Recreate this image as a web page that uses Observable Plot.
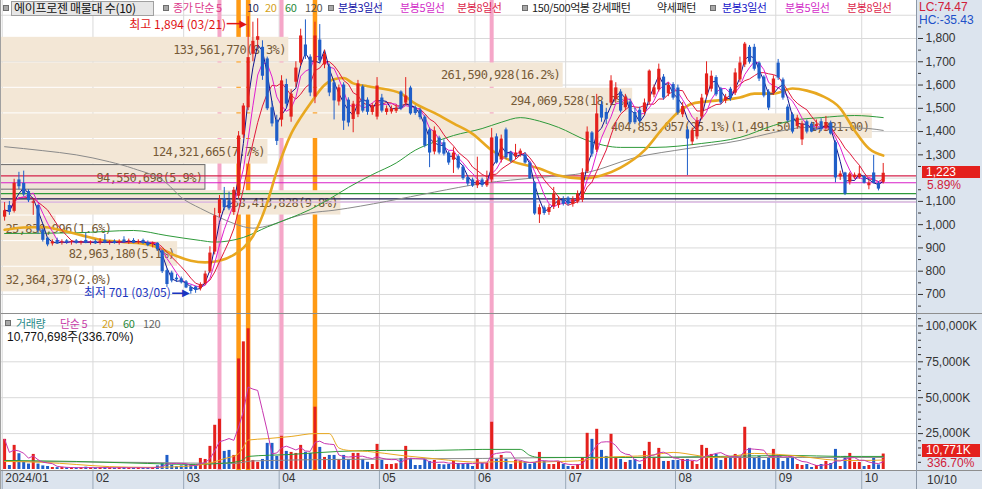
<!DOCTYPE html>
<html>
<head>
<meta charset="utf-8">
<script src="https://cdn.jsdelivr.net/npm/d3@7"></script>
<script src="https://cdn.jsdelivr.net/npm/@observablehq/plot@0.6"></script>
<style>
html,body{margin:0;padding:0;background:#fff;}
#wrap{position:relative;width:982px;height:489px;overflow:hidden;background:#fff;}
#wrap svg{position:absolute;left:0;}
.t{position:absolute;white-space:nowrap;font-family:"Noto Sans CJK KR","Liberation Sans",sans-serif;font-size:11px;line-height:12px;letter-spacing:-0.4px;}
.n{position:absolute;white-space:nowrap;font-family:"Liberation Sans","Noto Sans CJK KR",sans-serif;font-size:12px;line-height:12px;}
.ico{position:absolute;width:4px;height:4px;background:#a8a8a8;border:1px solid #6e6e6e;}
.bx{position:absolute;}
</style>
</head>
<body>
<div id="wrap"></div>
<script>
// ---------------- DATA ----------------
// daily candles, 2024-01 .. 2024-10-10 (index = trading day)
const open = [1030,1080,1055,1190,1175,1140,1090,1080,975,940,
915,930,920,928,922,928,920,930,920,926,
918,930,920,926,920,932,925,930,922,930,
920,912,918,885,800,790,768,765,752,728,
730,722,745,795,880,1045,1110,1100,1050,1120,
1383,1500,1730,1790,1760,1710,1500,1447,1447,1600,
1460,1610,1692,1770,1718,1546,1791,1684,1675,1607,
1525,1598,1533,1450,1470,1590,1533,1480,1460,1542,
1480,1482,1485,1568,1520,1585,1500,1490,1460,1405,
1310,1370,1350,1305,1275,1290,1245,1200,1190,1165,
1190,1165,1190,1375,1276,1405,1305,1290,1300,1297,
1262,1177,1040,1070,1050,1075,1080,1105,1112,1085,
1095,1104,1225,1392,1318,1513,1480,1520,1535,1568,
1500,1525,1480,1490,1480,1525,1555,1577,1632,1560,
1600,1585,1470,1405,1353,1375,1460,1555,1580,1630,
1580,1530,1580,1563,1620,1684,1760,1760,1692,1632,
1568,1563,1692,1620,1503,1470,1420,1362,1440,1430,
1420,1440,1410,1435,1350,1203,1220,1180,1200,1200,
1205,1165,1220,1175,1180];
const high = [1095,1100,1195,1225,1230,1150,1110,1085,980,945,
935,942,935,936,932,936,930,965,930,935,
940,958,932,935,935,948,938,940,935,938,
930,925,922,890,810,800,785,775,760,740,
735,750,800,905,1070,1125,1160,1140,1160,1400,
1520,1894,1870,1885,1790,1720,1530,1470,1640,1625,
1580,1700,1840,1880,1730,1870,1860,1750,1690,1620,
1600,1610,1545,1530,1620,1600,1545,1520,1632,1560,
1510,1510,1515,1575,1632,1595,1510,1500,1470,1415,
1420,1380,1365,1315,1330,1300,1255,1210,1200,1290,
1200,1230,1413,1390,1385,1415,1315,1345,1325,1310,
1270,1185,1085,1080,1085,1160,1120,1120,1120,1120,
1145,1240,1420,1400,1560,1530,1500,1640,1610,1580,
1560,1540,1500,1505,1540,1665,1600,1690,1645,1610,
1610,1600,1525,1420,1415,1460,1560,1700,1660,1640,
1590,1560,1590,1670,1720,1783,1770,1775,1700,1640,
1580,1640,1710,1630,1515,1480,1470,1445,1450,1440,
1450,1455,1465,1445,1360,1230,1225,1225,1222,1250,
1212,1190,1297,1185,1263];
const low = [1015,1040,1050,1150,1120,1095,1040,960,925,905,
908,915,912,915,912,916,912,918,912,915,
912,918,912,916,912,920,915,918,915,915,
905,900,885,790,730,750,752,745,725,701,
705,715,738,790,870,1030,1060,1060,1040,1110,
1370,1490,1700,1760,1620,1490,1420,1340,1420,1500,
1440,1590,1680,1710,1550,1520,1690,1670,1550,1450,
1510,1405,1420,1395,1460,1480,1470,1470,1450,1480,
1470,1475,1478,1490,1510,1470,1470,1450,1330,1245,
1300,1300,1295,1255,1220,1235,1190,1165,1160,1155,
1160,1160,1180,1260,1265,1280,1265,1280,1290,1260,
1195,1040,1005,1040,1040,1065,1070,1080,1080,1075,
1090,1095,1220,1290,1310,1440,1430,1510,1520,1480,
1490,1430,1430,1435,1470,1515,1545,1570,1535,1550,
1535,1470,1460,1211,1340,1365,1450,1545,1570,1550,
1515,1520,1530,1555,1610,1675,1690,1660,1615,1545,
1490,1555,1620,1535,1440,1390,1410,1340,1390,1395,
1410,1400,1400,1385,1180,1190,1125,1170,1195,1195,
1175,1150,1175,1145,1175];
const close = [1062,1055,1180,1165,1130,1105,1100,975,935,915,
928,920,928,924,930,922,928,922,926,920,
928,922,927,921,930,925,932,922,930,921,
912,922,895,800,745,760,765,752,730,715,
720,742,790,880,1040,1110,1075,1070,1150,1383,
1512,1720,1790,1810,1640,1500,1435,1360,1620,1520,
1563,1675,1813,1727,1568,1813,1705,1735,1568,1534,
1590,1447,1439,1520,1607,1490,1485,1512,1598,1490,
1500,1500,1502,1500,1555,1478,1480,1462,1340,1310,
1405,1310,1305,1267,1310,1245,1200,1177,1168,1190,
1170,1190,1375,1267,1370,1290,1275,1310,1318,1267,
1200,1048,1075,1050,1075,1134,1105,1090,1090,1110,
1134,1225,1400,1305,1478,1460,1455,1620,1590,1490,
1550,1440,1440,1445,1525,1662,1590,1670,1546,1600,
1546,1482,1510,1370,1405,1448,1546,1650,1640,1560,
1525,1550,1545,1654,1697,1778,1700,1670,1628,1555,
1503,1628,1632,1546,1448,1400,1460,1435,1400,1400,
1432,1410,1440,1392,1203,1220,1134,1220,1215,1220,
1180,1180,1180,1155,1223];
// volume in thousands of shares (K)
const volume = [21000,2800,16800,11000,5000,3800,10500,3800,2500,2100,
1400,1300,1500,1200,1400,1100,1300,1600,1200,1100,
1300,1500,1200,1000,1300,1400,1200,1100,1300,1000,
1200,1400,2500,4000,9800,3000,2000,2500,3000,3500,
3000,7700,7000,16100,30800,35000,12600,13300,9800,77000,
88900,98000,6300,5000,7000,18200,18200,9100,23100,12600,
11900,11200,16800,12000,11200,43400,15400,8400,9800,9800,
7000,9800,7000,11200,11200,7000,5000,3500,17500,6300,
3500,3500,4000,7700,16100,7700,2800,2800,7000,5600,
6300,3500,3200,3500,5600,4200,4200,4200,2100,7700,
4200,4200,32900,7000,9800,7000,3500,6300,5600,4900,
3500,4900,11900,5600,3500,3500,5600,3500,2100,2100,
3500,7700,25200,21000,28000,13300,9100,24500,8400,7000,
4900,6300,7000,3500,12600,18900,8400,14700,5600,5600,
6300,6300,7000,7000,5600,3500,16800,14700,10500,10500,
6300,8400,9100,10500,8400,29400,14700,7700,9100,6300,
7700,14000,9800,5600,7700,8400,3500,2800,3500,1400,
2800,3500,5600,4200,14000,2100,9100,11200,4900,4900,
2100,2800,7700,3198.9,10770.698];

// first trading day of each month (index) and tick labels
const monthStart = [0,19,38,58,79,99,118,141,162,180];
const monthLabels = ["2024/01","02","03","04","05","06","07","08","09","10"];
const lastLabel = "10/10";

// long moving averages: [day index], [value]
const ma20Idx = [0,4,8,12,16,20,25,30,33,36,39,42,45,48,50,52,55,57,60,62,64,67,69,71,73,76,78,83,86,90,94,98,102,106,112,116,121,125,129,134,138,141,144,149,154,157,161,165,168,171,175,178,181,184];
const ma20Val = [978,988,990,975,955,935,925,915,895,865,845,838,845,870,900,950,1095,1230,1390,1460,1520,1600,1625,1630,1607,1595,1588,1563,1520,1480,1435,1390,1320,1275,1241,1211,1198,1211,1245,1319,1418,1482,1520,1533,1546,1563,1563,1585,1576,1555,1500,1405,1327,1297];
const ma60Idx = [0,15,27,34,41,44,50,55,60,64,68,72,77,82,86,90,94,100,104,108,112,116,122,129,136,146,154,161,165,171,178,184];
const ma60Val = [962,965,975,953,932,925,945,990,1030,1065,1110,1160,1215,1265,1320,1355,1383,1413,1440,1460,1445,1418,1362,1332,1332,1349,1375,1426,1448,1460,1469,1460];
const ma120Idx = [0,8,15,22,27,34,37,41,45,48,52,56,60,64,69,80,90,100,112,122,132,143,154,161,168,175,181,184];
const ma120Val = [1335,1318,1300,1270,1241,1177,1117,1070,1031,1005,985,1000,1030,1050,1062,1100,1140,1177,1203,1224,1288,1327,1362,1396,1418,1418,1413,1405];
// volume moving averages (K)
const vma20Idx = [0,8,15,22,30,36,40,43,46,49,50,51,55,60,65,68,70,72,76,83,90,96,100,104,110,116,120,125,130,135,140,145,148,152,157,162,167,172,176,180,184];
const vma20Val = [5600,5000,3500,2000,1500,1900,2800,4500,7500,11000,15500,20500,21500,23000,25000,25000,15000,13300,12600,9800,7500,5600,5000,5600,5000,5600,6000,8400,9100,9800,11900,9800,8400,9100,11200,10500,9100,7000,6300,6300,6600];
const vma60Idx = [0,15,30,40,45,49,50,51,60,70,80,90,100,108,110,112,130,150,165,175,184];
const vma60Val = [6300,5600,4200,3500,4200,5600,7000,9100,10500,12600,13300,13300,14000,14000,9800,8400,8400,9100,9800,9100,9100];
const vma120Idx = [0,30,48,52,70,100,120,150,184];
const vma120Val = [5600,4900,4200,6000,7000,7700,8400,8400,8400];

// pattern markers (day index)
const pinkIdx = [45,58,102];
const orangeIdx = [49,51,65];

// horizontal level lines
const levelVals = [1210,1180,1133,1111,1097];

// volume-by-price profile (10 bins, top to bottom)
const profEdges = [1805,1695,1586,1476,1366,1256,1146,1037,927,817,707];
const profVol = [133561770,261590928,294069528,404853057,124321665,94550698,158413828,25830996,82963180,32364379];
const profPct = [8.3,16.2,18.2,25.1,7.7,5.9,9.8,1.6,5.1,2.0];
const profMaxRange = "(1,491.50 ~ 1,381.00)";

const hiDate = "03/21", loDate = "03/05";
const lcText = "LC:74.47", hcText = "HC:-35.43";

// ---------------- CHART ----------------
const wrap = document.getElementById("wrap");
const FONT = "'Liberation Sans','Noto Sans CJK KR',sans-serif";
const RED = "#e4201c", BLUE = "#1f5ec8";
const fmt = d3.format(",");

function div(cls, left, top, w, h, bg, extra) {
  const d = document.createElement("div");
  d.className = cls;
  Object.assign(d.style, {left: left + "px", top: top + "px"});
  if (w != null) d.style.width = w + "px";
  if (h != null) d.style.height = h + "px";
  if (bg) d.style.background = bg;
  if (extra) Object.assign(d.style, extra);
  wrap.appendChild(d);
  return d;
}
function txt(s, left, top, color, cls = "t", extra) {
  const d = div(cls, left, top, null, null, null, extra);
  d.textContent = s;
  d.style.color = color;
  return d;
}

// backgrounds of axis strips
div("bx", 917, 0, 65, 489, "#dce4ee");
div("bx", 0, 471, 917, 18, "#dce4ee");

const days = close.map((c, i) => ({i, o: open[i], h: high[i], l: low[i], c, v: volume[i]}));
const upDays = days.filter(d => d.c >= d.o);
const dnDays = days.filter(d => d.c < d.o);
const pts = (idx, val) => idx.map((i, k) => ({i, v: val[k]}));
const last = days[days.length - 1];
const prev = days[days.length - 2];

const xDom = [-0.8586, 191.18];
const yPrice = [618.2, 1963.3];
const yVol = [-696, 107940];
const monthTicks = monthStart.map(i => i - 0.5);
const tickLabel = new Map(monthTicks.map((t, k) => [t, monthLabels[k]]));
const priceGrid = d3.range(700, 1901, 100);
// price tick labels, except the one hidden behind the current-price tag
const priceTicks = d3.range(700, 1801, 100).filter(v => Math.abs(v - last.c) > 40);
const priceMinor = d3.range(650, 1901, 50).filter(v => v % 100 !== 0);
const volGrid = [25000, 50000, 75000, 100000];
const volMinor = d3.range(5000, 106000, 5000).filter(v => v % 25000 !== 0);

const common = {width: 982, marginLeft: 0, marginRight: 65,
  style: {background: "transparent", fontFamily: FONT, fontSize: "12px", color: "#333", overflow: "visible"}};

// layer 0: grid + pattern markers
const p0 = Plot.plot({...common, height: 313, marginTop: 0, marginBottom: 0,
  x: {domain: xDom, axis: null}, y: {domain: yPrice, axis: null},
  marks: [
    Plot.ruleY(priceGrid, {stroke: "#d9d9d9"}),
    Plot.ruleX(monthTicks, {stroke: "#d9d9d9"}),
    Plot.ruleX(pinkIdx, {stroke: "#f5a6c8", strokeWidth: 4}),
    Plot.ruleX(orangeIdx, {stroke: "#ff9a14", strokeWidth: 4.5})
  ]});
p0.style.top = "0px";
wrap.appendChild(p0);

// layer 1: volume-by-price profile
const pctMax = 26.40;
const pxPerPct = 917 / pctMax;
const prof = profVol.map((v, k) => {
  const label = fmt(v) + "(" + profPct[k].toFixed(1) + "%)" + (profPct[k] === d3.max(profPct) ? profMaxRange : "");
  return {v, pct: profPct[k], hi: profEdges[k], lo: profEdges[k + 1], label,
    fits: profPct[k] * pxPerPct > label.length * 6.62 + 8,
    cur: last.c < profEdges[k] && last.c >= profEdges[k + 1]};
});
const pProf = Plot.plot({...common, height: 313, marginTop: 0, marginBottom: 0,
  style: {...common.style, letterSpacing: "-0.6px"},
  x: {domain: [0, pctMax], axis: null}, y: {domain: yPrice, axis: null},
  marks: [
    Plot.rect(prof, {x1: 0, x2: "pct", y1: "lo", y2: "hi", fill: "#f3e7d6", insetBottom: 1}),
    Plot.rect(prof.filter(d => d.cur), {x1: 0, x2: "pct", y1: "lo", y2: "hi", fill: "#efe5d8", stroke: "#6a6a6a", insetBottom: 1}),
    Plot.text(prof.filter(d => d.fits), {x: "pct", y: d => (d.lo + d.hi) / 2, text: "label", textAnchor: "end", dx: -3,
      fill: "#765a36", fontFamily: "'DejaVu Sans Mono',monospace", fontSize: 12}),
    Plot.text(prof.filter(d => !d.fits), {x: 0, y: d => (d.lo + d.hi) / 2, text: "label", textAnchor: "start", dx: 5,
      fill: "#765a36", fontFamily: "'DejaVu Sans Mono',monospace", fontSize: 12})
  ]});
pProf.style.top = "0px";
wrap.appendChild(pProf);

// layer 2: levels, moving averages, candles, annotations, axis
const levelColors = ["#d4204a", "#d81ec8", "#2e9a3a", "#14144a", "#d8b0e0"];
const hiDay = days.reduce((a, b) => (b.h > a.h ? b : a));
const loDay = days.reduce((a, b) => (b.l < a.l ? b : a));
const p2 = Plot.plot({...common, height: 313, marginTop: 0, marginBottom: 0,
  x: {domain: xDom, axis: null}, y: {domain: yPrice, axis: null},
  marks: [
    ...levelVals.map((v, k) => Plot.ruleY([v], {stroke: levelColors[k], strokeWidth: 1.2})),
    Plot.line(pts(ma120Idx, ma120Val), {x: "i", y: "v", stroke: "#8a8a8a", strokeWidth: 1, curve: "monotone-x"}),
    Plot.line(pts(ma60Idx, ma60Val), {x: "i", y: "v", stroke: "#2e9a3a", strokeWidth: 1, curve: "monotone-x"}),
    Plot.line(pts(ma20Idx, ma20Val), {x: "i", y: "v", stroke: "#e8a820", strokeWidth: 2.6, curve: "monotone-x"}),
    Plot.lineY(days, Plot.windowY({k: 8, anchor: "end"}, {x: "i", y: "c", stroke: "#e0183c", strokeWidth: 1})),
    Plot.lineY(days, Plot.windowY({k: 5, anchor: "end"}, {x: "i", y: "c", stroke: "#e01ed0", strokeWidth: 1})),
    Plot.lineY(days, Plot.windowY({k: 3, anchor: "end"}, {x: "i", y: "c", stroke: "#14148c", strokeWidth: 1})),
    Plot.ruleX(upDays, {x: "i", y1: "l", y2: "h", stroke: RED, strokeWidth: 1}),
    Plot.ruleX(dnDays, {x: "i", y1: "l", y2: "h", stroke: BLUE, strokeWidth: 1}),
    Plot.ruleX(upDays, {x: "i", y1: "o", y2: "c", stroke: RED, strokeWidth: 3.2, insetTop: -0.5, insetBottom: -0.5}),
    Plot.ruleX(dnDays, {x: "i", y1: "o", y2: "c", stroke: BLUE, strokeWidth: 3.2, insetTop: -0.5, insetBottom: -0.5}),
    // high / low annotations
    Plot.text([hiDay], {x: "i", y: "h", text: d => `최고 ${fmt(d.h)} (${hiDate})`, textAnchor: "end", dx: -22, dy: 8.5,
      fill: "#e01414", fontSize: 12, fontFamily: "'Noto Sans CJK KR',sans-serif"}),
    Plot.ruleY([hiDay], {y: "h", x1: d => d.i - 4.4, x2: d => d.i - 1.3, dy: 7, stroke: "#e01414", strokeWidth: 1.5}),
    Plot.text([hiDay], {x: "i", y: "h", text: () => "▶", dx: -5, dy: 7, fill: "#e01414", fontSize: 10, fontFamily: "'DejaVu Sans',sans-serif"}),
    Plot.text([loDay], {x: "i", y: "l", text: d => `최저 ${fmt(d.l)} (${loDate})`, textAnchor: "end", dx: -20, dy: -1,
      fill: "#1a34c0", fontSize: 12, fontFamily: "'Noto Sans CJK KR',sans-serif"}),
    Plot.ruleY([loDay], {y: "l", x1: d => d.i - 3.8, x2: d => d.i - 1.3, dy: -1, stroke: "#1a34c0", strokeWidth: 1.5}),
    Plot.text([loDay], {x: "i", y: "l", text: () => "▶", dx: -5, dy: -1, fill: "#1a34c0", fontSize: 10, fontFamily: "'DejaVu Sans',sans-serif"}),
    // right axis
    Plot.axisY({anchor: "right", label: null, ticks: priceTicks, tickFormat: fmt, tickSize: 5, tickPadding: 3, fontSize: 12}),
    Plot.axisY({anchor: "right", label: null, ticks: priceMinor, tickFormat: () => "", tickSize: 3})
  ]});
p2.style.top = "0px";
wrap.appendChild(p2);

// volume panel
const pv = Plot.plot({...common, height: 176, marginTop: 1, marginBottom: 19,
  x: {domain: xDom, axis: null}, y: {domain: yVol, axis: null},
  marks: [
    Plot.ruleY(volGrid, {stroke: "#d9d9d9"}),
    Plot.ruleX(monthTicks, {stroke: "#d9d9d9"}),
    Plot.ruleX(pinkIdx, {stroke: "#f5a6c8", strokeWidth: 4}),
    Plot.ruleX(orangeIdx, {stroke: "#ff9a14", strokeWidth: 4.5}),
    Plot.ruleX(upDays, {x: "i", y1: 0, y2: "v", stroke: RED, strokeWidth: 3}),
    Plot.ruleX(dnDays, {x: "i", y1: 0, y2: "v", stroke: BLUE, strokeWidth: 3}),
    Plot.line(pts(vma120Idx, vma120Val), {x: "i", y: "v", stroke: "#8a8a8a", strokeWidth: 1, curve: "monotone-x"}),
    Plot.line(pts(vma60Idx, vma60Val), {x: "i", y: "v", stroke: "#2e9a3a", strokeWidth: 1, curve: "monotone-x"}),
    Plot.line(pts(vma20Idx, vma20Val), {x: "i", y: "v", stroke: "#e8a820", strokeWidth: 1, curve: "monotone-x"}),
    Plot.lineY(days, Plot.windowY({k: 5, anchor: "end"}, {x: "i", y: "v", stroke: "#c838b0", strokeWidth: 1})),
    Plot.axisY({anchor: "right", label: null, ticks: volGrid, tickFormat: d => fmt(d) + "K", tickSize: 5, tickPadding: 3, fontSize: 12}),
    Plot.axisY({anchor: "right", label: null, ticks: volMinor, tickFormat: () => "", tickSize: 3}),
    Plot.axisX({anchor: "bottom", label: null, ticks: monthTicks, tickFormat: () => "", tickSize: 19, stroke: "#9aa8b8"}),
    Plot.axisX({anchor: "bottom", label: null, ticks: monthTicks, tickFormat: d => tickLabel.get(d), tickSize: 0, tickPadding: 3,
      textAnchor: "start", dx: 3, fontSize: 12})
  ]});
pv.style.top = "313px";
wrap.appendChild(pv);

// frame lines
div("bx", 0, 313, 982, 1, "#8e8e8e");
div("bx", 0, 470, 982, 1, "#8e8e8e");
div("bx", 916, 0, 1, 489, "#8c98a8");
div("bx", 0, 0, 1, 489, "#a0a0a0");

// top legend of the price panel
div("ico", 3, 5);
div("bx", 11, 1, 143, 15, "#e6e6e6", {border: "1px solid #a0a0a0", boxSizing: "border-box"});
txt("에이프로젠 매물대 수(10)", 14, 2, "#111", "t", {fontSize: "12px", letterSpacing: "-0.3px"});
div("ico", 163, 5);
txt("종가 단순 5", 173, 1, "#dc3c8c");
txt("10", 247, 1, "#2a2a5a");
txt("20", 265, 1, "#d4a21c");
txt("60", 285, 1, "#2a8a3a");
txt("120", 305, 1, "#555");
div("ico", 328, 5);
txt("분봉3일선", 338, 1, "#1414a8");
txt("분봉5일선", 400, 1, "#d22cc8");
txt("분봉8일선", 457, 1, "#dc1e4a");
div("ico", 522, 5);
txt("150/500억봉 강세패턴", 532, 1, "#222");
txt("약세패턴", 657, 1, "#222");
div("ico", 710, 5);
txt("분봉3일선", 722, 1, "#1414c8");
txt("분봉5일선", 785, 1, "#d22cc8");
txt("분봉8일선", 847, 1, "#dc1e4a");

// volume legend
div("ico", 5, 320);
txt("거래량", 16, 317, "#2a8a8a");
txt("단순 5", 60, 317, "#c83ca8");
txt("20", 102, 317, "#d4a21c");
txt("60", 123, 317, "#2a8a3a");
txt("120", 143, 317, "#666");
const volPct = (last.v / prev.v * 100).toFixed(2);
txt(fmt(Math.round(last.v * 1000)) + "주(" + volPct + "%)", 7, 331, "#111", "n");

// right strip texts
txt(lcText, 919, 1, "#d0203a", "n");
txt(hcText, 919, 14, "#2050c8", "n");
const ys = p2.scale("y");
const yPx = ys.apply(last.c);
const tagP = div("n", 922, Math.round(yPx - 6), 58, 12, RED, {color: "#fff", paddingLeft: "4px", boxSizing: "border-box", lineHeight: "12px"});
tagP.textContent = fmt(last.c);
txt(((last.c / prev.c - 1) * 100).toFixed(2) + "%", 927, Math.round(yPx + 8), "#d0203a", "n", {lineHeight: "11px"});
const yv = pv.scale("y");
const yVPx = 313 + yv.apply(last.v);
const tagV = div("n", 922, Math.round(yVPx - 9.5), 58, 13, RED, {color: "#fff", paddingLeft: "4px", boxSizing: "border-box", lineHeight: "13px"});
tagV.textContent = fmt(Math.round(last.v)) + "K";
txt(volPct + "%", 927, Math.round(yVPx + 4.5), "#d0203a", "n", {lineHeight: "11px"});
txt(lastLabel, 927, 474, "#333", "n");
</script>
</body>
</html>
